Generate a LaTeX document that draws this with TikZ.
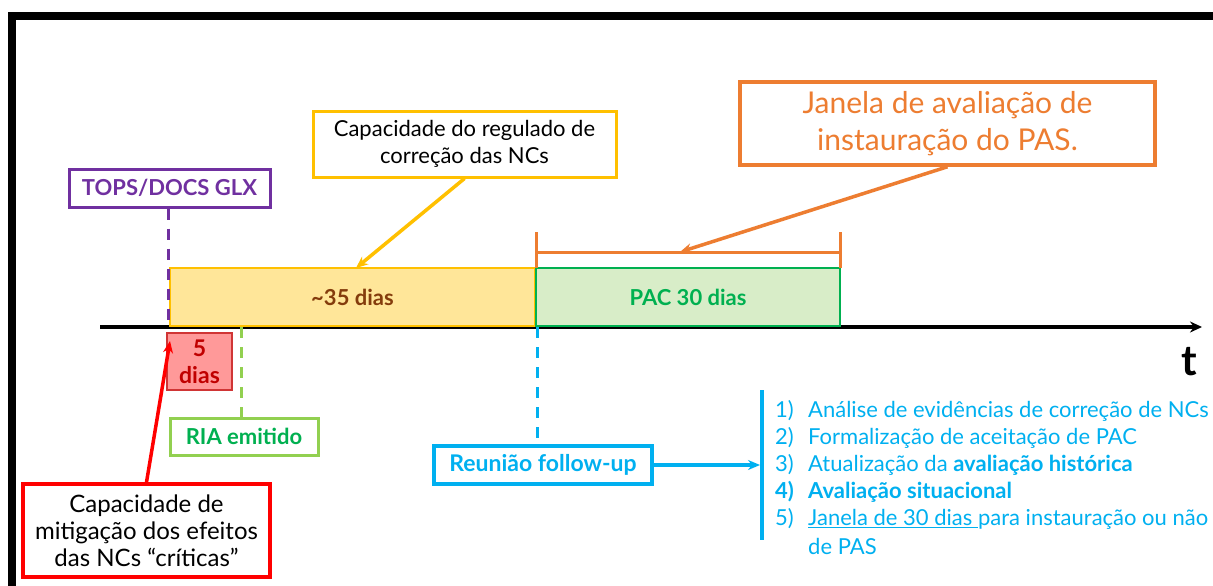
\documentclass[tikz,border=0pt]{standalone}
\usepackage{fontspec}
\setmainfont{Lato}
\usetikzlibrary{arrows.meta}
\definecolor{purp}{HTML}{7030A0}
\definecolor{yel}{HTML}{FFC000}
\definecolor{yelfill}{HTML}{FFE699}
\definecolor{brn}{HTML}{843C0C}
\definecolor{grn}{HTML}{00B050}
\definecolor{grnfill}{HTML}{D8EDC8}
\definecolor{lgrn}{HTML}{92D050}
\definecolor{orng}{HTML}{ED7D31}
\definecolor{blu}{HTML}{00B0F0}
\definecolor{redfill}{HTML}{FF9999}
\definecolor{dred}{HTML}{C00000}
\definecolor{redborder}{HTML}{D03535}
\begin{document}
\begin{tikzpicture}[x=1pt,y=-1pt,
  box/.style={draw, line width=3pt, inner sep=0pt, align=center},
  dashline/.style={line width=3pt, dash pattern=on 11pt off 9pt},
  arr/.style={line width=3.5pt, -{Stealth[length=12pt,width=10pt]}},
  bt/.style={font=\fontsize{22}{26}\selectfont\bfseries},
  li/.style={anchor=west, inner sep=0pt, text=blu, font=\fontsize{22}{26}\selectfont}
]
\useasboundingbox (0,0) rectangle (1213,586);
\fill[white] (0,0) rectangle (1213,586);
% frame
\draw[line width=8pt] (12,600) -- (12,16) -- (1225,16);

% timeline
\coordinate (ax0) at (100,327);
\coordinate (ax1) at (1202,327);
\draw[line width=3.5pt, -{Stealth[length=12pt,width=11pt]}] (ax0) -- (ax1);
\node[font=\fontsize{42}{42}\selectfont\bfseries, inner sep=0pt] (t) at (1189,362) {t};

% bars
\node[box, draw=yel, fill=yelfill, line width=2.5pt, minimum width=365pt, minimum height=58pt, text=brn, bt] (y35) at (352.5,297) {\textasciitilde35 dias};
\node[box, draw=grn, fill=grnfill, line width=2.5pt, minimum width=304pt, minimum height=58pt, text=grn, bt] (pac) at (688,297) {PAC 30 dias};

% TOPS
\node[box, draw=purp, text=purp, bt, minimum width=201pt, minimum height=38pt] (tops) at (169.5,188) {TOPS/DOCS GLX};
\coordinate (topsend) at (168,327);
\draw[purp, dashline] (tops.south -| topsend) -- (topsend);

% yellow callout
\node[box, draw=yel, font=\fontsize{22}{27}\selectfont, minimum width=303pt, minimum height=66pt] (cap) at (464.5,144) {Capacidade do regulado de\\correção das NCs};
\coordinate (captip) at (356,268);
\draw[yel, arr] (cap.south) -- (captip);

% orange bracket + callout
\coordinate (bl) at (536,252);
\coordinate (br) at (840,252);
\coordinate (bmid) at (680,252);
\draw[orng, line width=3pt] (536,232) -- (536,268) (840,232) -- (840,268);
\draw[orng, line width=3pt] (bl) -- (br);
\node[box, draw=orng, text=orng, line width=3.5pt, font=\fontsize{30}{37}\selectfont, minimum width=415pt, minimum height=83pt] (jan) at (947.5,123.5) {Janela de avaliação de\\instauração do PAS.};
\draw[orng, arr] (jan.south) -- (bmid);

% 5 dias
\node[box, draw=redborder, fill=redfill, line width=2.5pt, text=dred, font=\fontsize{23}{27}\selectfont\bfseries, minimum width=65pt, minimum height=57pt] (five) at (199.5,361.5) {5\\dias};

% RIA
\node[box, draw=lgrn, text=grn, bt, minimum width=148pt, minimum height=37pt] (ria) at (244,436.5) {RIA emitido};
\coordinate (riatop) at (241,327);
\draw[lgrn, dashline] (riatop) -- (riatop |- ria.north);

% red callout
\node[box, draw=red, line width=3.5pt, font=\fontsize{24}{27}\selectfont, minimum width=247pt, minimum height=93pt] (mit) at (146.5,530.5) {Capacidade de\\mitigação dos efeitos\\das NCs “críticas”};
\coordinate (fivetip) at (170,341);
\draw[red, arr] (mit.north) -- (fivetip);

% Reuniao
\node[box, draw=blu, text=blu, line width=3.5pt, font=\fontsize{23}{26}\selectfont\bfseries, minimum width=218pt, minimum height=38pt] (reu) at (543,465) {Reunião follow-up};
\coordinate (reutop) at (537,327);
\draw[blu, dashline] (reutop) -- (reutop |- reu.north);
\coordinate (bar) at (760,465);
\draw[blu, arr] (reu.east) -- (bar);
\coordinate (bartop) at (762,390);
\coordinate (barbot) at (762,540);
\draw[blu, line width=3.5pt] (bartop) -- (barbot);

% list
\node[li] (l1) at (775,411) {\makebox[33pt][l]{1)}Análise de evidências de correção de NCs};
\node[li] (l2) at (775,438) {\makebox[33pt][l]{2)}Formalização de aceitação de PAC};
\node[li] (l3) at (775,465) {\makebox[33pt][l]{3)}Atualização da \textbf{avaliação histórica}};
\node[li] (l4) at (775,492) {\bfseries\makebox[33pt][l]{4)}Avaliação situacional};
\node[li] (l5) at (775,519) {\makebox[33pt][l]{5)}\underline{Janela de 30 dias }para instauração ou não};
\node[li] (l6) at (808,546) {de PAS};
\end{tikzpicture}
\end{document}
